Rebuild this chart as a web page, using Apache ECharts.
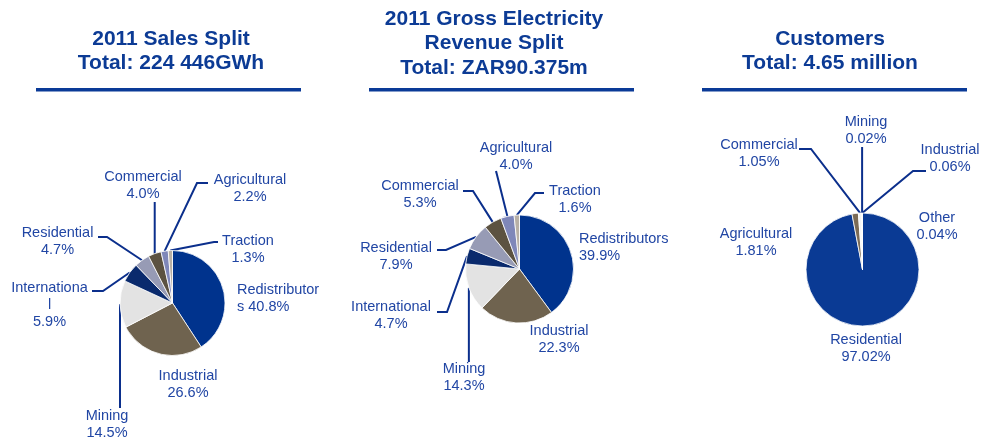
<!DOCTYPE html>
<html>
<head>
<meta charset="utf-8">
<script src="https://cdn.jsdelivr.net/npm/echarts@6/dist/echarts.min.js"></script>
<style>
  html, body { margin: 0; padding: 0; background: #ffffff; }
  #chart { width: 985px; height: 443px; }
</style>
</head>
<body>
<div id="chart"></div>
<script>
// ---- Data ----------------------------------------------------------------
// 2011 sales split, share of 224 446 GWh (%)
const salesCategories = ['Redistributors', 'Industrial', 'Mining', 'International',
  'Residential', 'Commercial', 'Agricultural', 'Traction'];
const salesShare = [40.8, 26.6, 14.5, 5.9, 4.7, 4.0, 2.2, 1.3];
// label text as printed (name + separator before the value)
const salesLabelText = ['Redistributor\ns ', 'Industrial\n', 'Mining\n', 'Internationa\nl\n',
  'Residential\n', 'Commercial\n', 'Agricultural\n', 'Traction\n'];

// 2011 gross electricity revenue split, share of ZAR90.375m (%)
const revenueCategories = ['Redistributors', 'Industrial', 'Mining', 'International',
  'Residential', 'Commercial', 'Agricultural', 'Traction'];
const revenueShare = [39.9, 22.3, 14.3, 4.7, 7.9, 5.3, 4.0, 1.6];
const revenueLabelText = ['Redistributors\n', 'Industrial\n', 'Mining\n', 'International\n',
  'Residential\n', 'Commercial\n', 'Agricultural\n', 'Traction\n'];

// customers, share of 4.65 million (%)
const customerCategories = ['Residential', 'Agricultural', 'Commercial', 'Mining', 'Industrial', 'Other'];
const customerShare = [97.02, 1.81, 1.05, 0.02, 0.06, 0.04];
const customerLabelText = ['Residential\n', 'Agricultural\n', 'Commercial\n', 'Mining\n', 'Industrial\n', 'Other\n'];

const panelTitles = [
  '2011 Sales Split\nTotal: 224 446GWh',
  '2011 Gross Electricity\nRevenue Split\nTotal: ZAR90.375m',
  'Customers\nTotal: 4.65 million'
];

// ---- Styling ---------------------------------------------------------------
const FONT = '"Liberation Sans", Arial, Helvetica, sans-serif';
const TITLE_COLOR = '#0c3b95';
const LABEL_COLOR = '#2146a4';
const LEADER_COLOR = '#0b2f8c';

const segmentColors = {
  Redistributors: '#00338d',
  Industrial: '#6f634f',
  Mining: '#e3e3e3',
  International: '#0a2a6d',
  Residential: '#979bb5',
  Commercial: '#5c5241',
  Agricultural: '#7f87b9',
  Traction: '#b8b0a6'
};
const customerColors = ['#0a3a94', '#7b6b56', '#f4f4f4', '#d8d8d8', '#c8c8c8', '#bdbdbd'];

// Label placement per slice: block centre (x, y), optional alignment and
// leader line end offset (dx, dy) from the block centre plus elbow length ex.
// dx === null means the leader drops straight down/up from the slice edge.
const panels = [
  {
    center: [172.5, 303], radius: 52.5, titleX: 171, titleTop: 27, lineHeight: 24, ruleX: 36,
    labels: [
      { x: 237, y: 298.5, align: 'left' },
      { x: 188, y: 384.5 },
      { x: 107, y: 424.5, line: { dx: null, dy: -16.5, ex: 0 } },
      { x: 49.5, y: 305, line: { dx: 42.5, dy: -14, ex: 11 } },
      { x: 57.5, y: 241.5, line: { dx: 40.5, dy: -4.5, ex: 9 } },
      { x: 143, y: 185.5, line: { dx: null, dy: 16.5, ex: 0 } },
      { x: 250, y: 188, line: { dx: -42, dy: -5, ex: -11 } },
      { x: 248, y: 249, line: { dx: -30, dy: -7, ex: -4 } }
    ]
  },
  {
    center: [519.5, 269], radius: 54, titleX: 494, titleTop: 6.75, lineHeight: 24.5, ruleX: 369,
    labels: [
      { x: 579, y: 247.5, align: 'left' },
      { x: 559, y: 339.5 },
      { x: 464, y: 377, line: { dx: null, dy: -15, ex: 0 } },
      { x: 391, y: 315.5, line: { dx: 46, dy: -3.5, ex: 10 } },
      { x: 396, y: 256, line: { dx: 41, dy: -6, ex: 9 } },
      { x: 420, y: 194.5, line: { dx: 43, dy: -3.5, ex: 10 } },
      { x: 516, y: 156.5, line: { dx: -20, dy: 14.5, ex: 0 } },
      { x: 575, y: 199, line: { dx: -31, dy: -6, ex: -9 } }
    ]
  },
  {
    center: [862.5, 269.5], radius: 56.5, titleX: 830, titleTop: 27, lineHeight: 24, ruleX: 702,
    labels: [
      { x: 866, y: 348.5 },
      { x: 756, y: 242 },
      { x: 759, y: 153, line: { dx: 40, dy: -4, ex: 12 } },
      { x: 866, y: 130.5, line: { dx: null, dy: 16.5, ex: 0 } },
      { x: 950, y: 158.5, line: { dx: -24, dy: 12.5, ex: -13 } },
      { x: 937, y: 226 }
    ]
  }
];

const seriesSources = [
  { names: salesCategories, values: salesShare, text: salesLabelText, digits: 1,
    colors: salesCategories.map(n => segmentColors[n]) },
  { names: revenueCategories, values: revenueShare, text: revenueLabelText, digits: 1,
    colors: revenueCategories.map(n => segmentColors[n]) },
  { names: customerCategories, values: customerShare, text: customerLabelText, digits: 2,
    colors: customerColors }
];

function placeLabel(params) {
  const spec = panels[params.seriesIndex].labels[params.dataIndex];
  const out = { x: spec.x, y: spec.y, align: spec.align || 'center', verticalAlign: 'middle' };
  const pts = params.labelLinePoints;
  if (spec.line && pts && pts.length) {
    const edge = pts[0];
    const endX = spec.line.dx === null ? edge[0] : spec.x + spec.line.dx;
    const endY = spec.y + spec.line.dy;
    const elbow = [endX + spec.line.ex, endY];
    out.labelLinePoints = [edge, elbow, [endX, endY]];
  }
  return out;
}

const series = seriesSources.map((src, si) => {
  const p = panels[si];
  return {
    type: 'pie',
    center: p.center,
    radius: p.radius,
    startAngle: 90,
    clockwise: true,
    avoidLabelOverlap: false,
    silent: true,
    animation: false,
    itemStyle: { borderColor: '#ffffff', borderWidth: 0.8 },
    label: {
      show: true,
      position: 'outside',
      color: LABEL_COLOR,
      fontFamily: FONT,
      fontSize: 14.5,
      lineHeight: 17,
      formatter: prm => src.text[prm.dataIndex] + src.values[prm.dataIndex].toFixed(src.digits) + '%'
    },
    labelLine: {
      show: true,
      length: 8,
      length2: 8,
      lineStyle: { color: LEADER_COLOR, width: 2 }
    },
    labelLayout: placeLabel,
    data: src.names.map((name, i) => ({
      name: name,
      value: src.values[i],
      itemStyle: { color: src.colors[i] },
      labelLine: { show: !!p.labels[i].line }
    }))
  };
});

const chart = echarts.init(document.getElementById('chart'), null, { renderer: 'canvas' });
chart.setOption({
  animation: false,
  backgroundColor: '#ffffff',
  title: panels.map((p, i) => ({
    text: panelTitles[i],
    left: p.titleX,
    top: p.titleTop,
    padding: 0,
    textAlign: 'center',
    textVerticalAlign: 'top',
    textStyle: {
      fontFamily: FONT,
      fontSize: 21,
      fontWeight: 'bold',
      color: TITLE_COLOR,
      lineHeight: p.lineHeight
    }
  })),
  graphic: panels.map(p => ({
    type: 'rect',
    shape: { x: p.ruleX, y: 88, width: 265, height: 3.5 },
    style: { fill: '#0a3a97' },
    silent: true
  })),
  series: series
});
</script>
</body>
</html>
